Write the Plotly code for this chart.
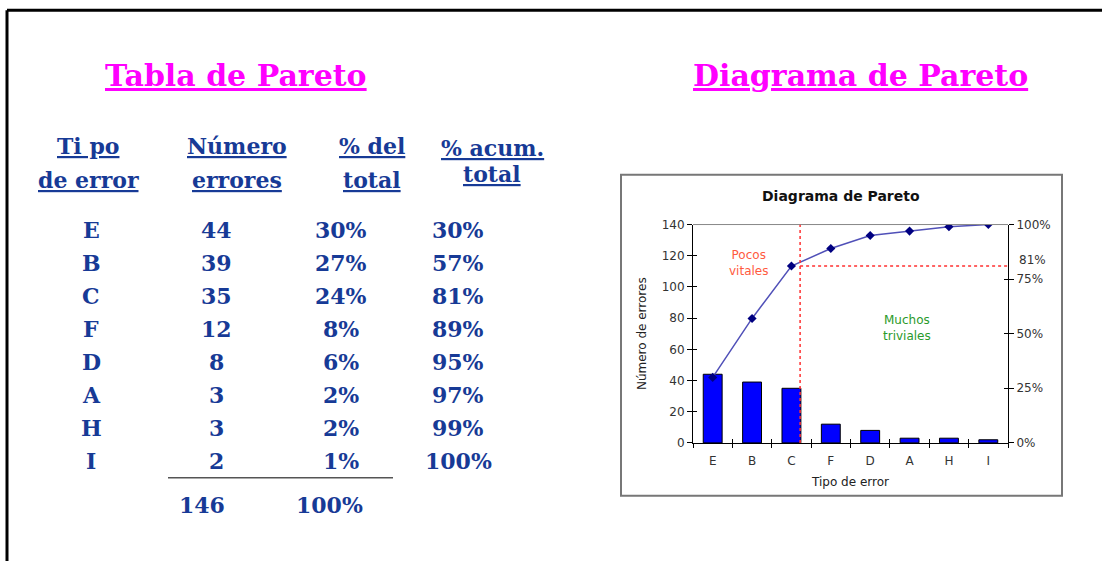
import plotly.graph_objects as go

# ---------------- data ----------------
categories = ["E", "B", "C", "F", "D", "A", "H", "I"]
counts = [44, 39, 35, 12, 8, 3, 3, 2]
pct_total = [30, 27, 24, 8, 6, 2, 2, 1]
pct_cum = [30, 57, 81, 89, 95, 97, 99, 100]
total_count = 146
total_pct = 100
right_ticks = [0, 25, 50, 75, 100]
right_labels = ["0%", "25%", "50%", "75%", "100%"]
headers = [["Ti po", "de error"], ["Número", "errores"], ["% del", "total"], ["% acum.", "total"]]
cut_pct = 81

W, H = 1102, 561


def px(x):
    return x / W


def py(y):
    # vertical pixel position -> paper fraction (small correction for the page's vertical fit)
    return 1 - ((y - 5.8) / 0.978) / H


BLUE = "#173a96"
MAG = "#FF00FF"
SERIF = "DejaVu Serif"
SANS = "DejaVu Sans"

fig = go.Figure()
fig.add_trace(go.Bar(
    x=categories, y=counts, width=0.48,
    marker=dict(color="#0000FF", line=dict(color="black", width=1)),
    xaxis="x", yaxis="y", showlegend=False, hoverinfo="skip"))
fig.add_trace(go.Scatter(
    x=categories, y=pct_cum, xaxis="x", yaxis="y2", mode="lines+markers",
    line=dict(color="#5050b8", width=1.5),
    marker=dict(symbol="diamond", size=7, color="#000080"),
    showlegend=False, hoverinfo="skip"))
# empty traces so the overlay tick axes exist
fig.add_trace(go.Scatter(x=[], y=[], xaxis="x2", yaxis="y3", showlegend=False))
fig.add_trace(go.Scatter(x=[], y=[], xaxis="x2", yaxis="y4", showlegend=False))

xdom = [px(693), px(1008)]
ydom = [py(443), py(224)]
tickfont = dict(family=SANS, size=12, color="#333")

annotations = []
shapes = []

# ---------- left table ----------
annotations.append(dict(text="<b><u>Tabla de Pareto</u></b>", x=px(236), y=py(75),
                        font=dict(family=SERIF, size=30, color=MAG)))
annotations.append(dict(text="<b><u>Diagrama de Pareto</u></b>", x=px(860), y=py(75),
                        font=dict(family=SERIF, size=30, color=MAG)))

hx = [88, 237, 372, 492]
hy = [[145, 179], [145, 179], [145, 179], [147, 173]]
for (l1, l2), cx, (y1, y2) in zip(headers, hx, hy):
    for t, yy in ((l1, y1), (l2, y2)):
        annotations.append(dict(text="<b><u>%s</u></b>" % t, x=px(cx), y=py(yy),
                                font=dict(family=SERIF, size=22, color=BLUE)))

for i, cat in enumerate(categories):
    yy = 229 + i * 33.2
    vals = [(cat, 91), (str(counts[i]), 216), ("%d%%" % pct_total[i], 341), ("%d%%" % pct_cum[i], 458)]
    for t, cx in vals:
        annotations.append(dict(text="<b>%s</b>" % t, x=px(cx), y=py(yy),
                                font=dict(family=SERIF, size=22, color=BLUE)))

annotations.append(dict(text="<b>%d</b>" % total_count, x=px(202), y=py(505),
                        font=dict(family=SERIF, size=22, color=BLUE)))
annotations.append(dict(text="<b>%d%%</b>" % total_pct, x=px(329), y=py(505),
                        font=dict(family=SERIF, size=22, color=BLUE)))
shapes.append(dict(type="line", xref="paper", yref="paper", x0=px(168), x1=px(393),
                   y0=py(478), y1=py(478), line=dict(color="#555", width=1.5)))

# ---------- chart decorations ----------
annotations.append(dict(text="<b>Diagrama de Pareto</b>", x=px(841), y=py(195),
                        font=dict(family=SANS, size=14, color="#111")))
annotations.append(dict(text="Pocos<br>vitales", x=px(748), y=py(263),
                        font=dict(family=SANS, size=12, color="#FF5a40")))
annotations.append(dict(text="Muchos<br>triviales", x=px(907), y=py(328),
                        font=dict(family=SANS, size=12, color="#2a9a2a")))
annotations.append(dict(text="%d%%" % cut_pct, xref="paper", yref="y2", x=px(1017),
                        y=cut_pct, xanchor="left", yshift=6,
                        font=dict(family=SANS, size=12, color="#333")))
for a in annotations:
    a.setdefault("xref", "paper")
    a.setdefault("yref", "paper")
    a.setdefault("showarrow", False)
    a.setdefault("xanchor", "center")
    a.setdefault("yanchor", "middle")

shapes += [
    # plot area top border
    dict(type="line", xref="paper", yref="paper", x0=xdom[0], x1=xdom[1], y0=ydom[1], y1=ydom[1],
         line=dict(color="#888", width=1)),
    # dotted cut lines
    dict(type="line", xref="x", yref="y", x0=2.22, x1=2.22, y0=0, y1=140,
         line=dict(color="#FF3030", width=1.5, dash="dot")),
    dict(type="line", xref="x", yref="y2", x0=2.22, x1=7.62, y0=cut_pct, y1=cut_pct,
         line=dict(color="#FF3030", width=1.5, dash="dot")),
    # chart box
    dict(type="rect", xref="paper", yref="paper", x0=px(621), x1=px(1062), y0=py(496), y1=py(174),
         line=dict(color="#777", width=2)),
    # slide border (top and left)
    dict(type="line", xref="paper", yref="paper", x0=px(7), x1=1, y0=py(9), y1=py(9),
         line=dict(color="black", width=3)),
    dict(type="line", xref="paper", yref="paper", x0=px(7), x1=px(7), y0=-0.05, y1=py(9),
         line=dict(color="black", width=3)),
]

fig.update_layout(
    width=W, height=H, margin=dict(l=0, r=0, t=0, b=0),
    paper_bgcolor="white", plot_bgcolor="white", showlegend=False,
    xaxis=dict(domain=xdom, anchor="y", type="category", categoryarray=categories,
               range=[-0.5, 7.5], tickson="boundaries", ticks="outside", ticklen=4,
               tickcolor="black", showline=True, linecolor="black", linewidth=1,
               showgrid=False, tickfont=tickfont, ticklabelstandoff=7,
               title=dict(text="Tipo de error", font=dict(family=SANS, size=12, color="#222"),
                          standoff=10)),
    xaxis2=dict(domain=xdom, anchor="y", overlaying="x", range=[-0.5, 7.5],
                tickvals=[i - 0.5 for i in range(9)], ticks="inside", ticklen=4,
                tickcolor="black", showticklabels=False, showgrid=False, zeroline=False,
                showline=False),
    yaxis=dict(domain=ydom, anchor="x", range=[0, 140], dtick=20, ticks="outside", ticklen=5,
               tickcolor="black", showline=True, linecolor="black", showgrid=False,
               zeroline=False, tickfont=tickfont,
               title=dict(text="Número de errores", font=dict(family=SANS, size=12, color="#222"),
                          standoff=12)),
    yaxis2=dict(domain=ydom, anchor="x", overlaying="y", side="right", range=[0, 100],
                tickvals=right_ticks, ticktext=right_labels, ticks="outside", ticklen=5,
                tickcolor="black", showline=True, linecolor="black", showgrid=False,
                zeroline=False, tickfont=tickfont),
    yaxis3=dict(domain=ydom, anchor="x2", overlaying="y", side="left", range=[0, 140], dtick=20,
                ticks="inside", ticklen=4, tickcolor="black", showticklabels=False,
                showgrid=False, zeroline=False, showline=False),
    yaxis4=dict(domain=ydom, anchor="x2", overlaying="y", side="right", range=[0, 100],
                tickvals=right_ticks, ticks="inside", ticklen=4, tickcolor="black",
                showticklabels=False, showgrid=False, zeroline=False, showline=False),
    annotations=annotations, shapes=shapes,
)

fig.write_html("out.html")
